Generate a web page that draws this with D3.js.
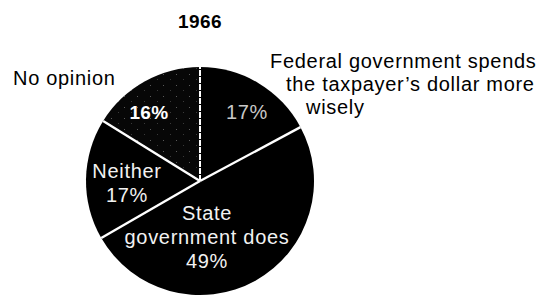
<!DOCTYPE html>
<html>
<head>
<meta charset="utf-8">
<script src="https://cdn.jsdelivr.net/npm/d3@7/dist/d3.min.js"></script>
<style>
  html, body { margin: 0; padding: 0; background: #fff; }
  svg { display: block; }
  text { font-family: "Liberation Sans", Arial, Helvetica, sans-serif; }
</style>
</head>
<body>
<svg id="chart" width="538" height="296"></svg>
<script>
// ---- data ----
const title = "1966";
const categories = [
  "Federal government spends the taxpayer\u2019s dollar more wisely",
  "State government does",
  "Neither",
  "No opinion"
];
const values = [17, 49, 17, 16];
const valueLabels = ["17%", "49%", "17%", "16%"];

// ---- layout / style (not data) ----
const W = 538, H = 296;
const cx = 200, cy = 181, R = 114;
const fills = ["#000000", "#000000", "#000000", "#0a0a0a"];

const svg = d3.select("#chart");

// sparse speckle pattern for "No opinion"
const defs = svg.append("defs");
const pat = defs.append("pattern")
  .attr("id", "speck").attr("patternUnits", "userSpaceOnUse")
  .attr("width", 13).attr("height", 11);
pat.append("rect").attr("width", 13).attr("height", 11).attr("fill", "#070707");
pat.append("rect").attr("x", 2).attr("y", 3).attr("width", 1).attr("height", 1).attr("fill", "#5a5a5a");
pat.append("rect").attr("x", 9).attr("y", 8).attr("width", 1).attr("height", 1).attr("fill", "#3a3a3a");

const pie = d3.pie().sort(null).value(d => d.v);
const data = categories.map((c, i) => ({ c, v: values[i], lbl: valueLabels[i], i }));
const arcs = pie(data);
const arc = d3.arc().innerRadius(0).outerRadius(R);

const g = svg.append("g").attr("transform", `translate(${cx},${cy})`);

g.selectAll("path.slice").data(arcs).join("path")
  .attr("class", "slice")
  .attr("d", arc)
  .attr("fill", d => d.data.i === 3 ? "url(#speck)" : fills[d.data.i]);

// separator lines from center to each slice boundary
arcs.forEach(a => {
  const ang = a.startAngle;
  const isDotted = a.data.i === 0; // boundary between No opinion and Federal
  g.append("line")
    .attr("x1", 0).attr("y1", 0)
    .attr("x2", R * Math.sin(ang)).attr("y2", -R * Math.cos(ang))
    .attr("stroke", "#fff")
    .attr("stroke-width", isDotted ? 2 : 2.4)
    .attr("stroke-dasharray", isDotted ? "6,1" : null);
});

// title
svg.append("text")
  .attr("x", 200).attr("y", 28)
  .attr("text-anchor", "middle")
  .attr("font-size", 19).attr("font-weight", "bold")
  .attr("letter-spacing", 0.4)
  .attr("fill", "#000")
  .text(title);

// inside labels
const inside = [
  { i: 0, lines: [valueLabels[0]], dx: 47, dy: -62, fill: "#c8c8c8", w: "normal" },
  { i: 3, lines: [valueLabels[3]], dx: -51, dy: -62, fill: "#ffffff", w: "bold" },
  { i: 2, lines: ["Neither", valueLabels[2]], dx: -73, dy: -3, fill: "#f2f2f2", w: "normal" },
  { i: 1, lines: ["State", "government does", valueLabels[1]], dx: 7, dy: 39, fill: "#f2f2f2", w: "normal" }
];
inside.forEach(L => {
  const t = g.append("text")
    .attr("text-anchor", "middle")
    .attr("font-size", L.w === "bold" ? 19 : 20)
    .attr("font-weight", L.w)
    .attr("letter-spacing", L.w === "bold" ? 0.4 : 0.7)
    .attr("fill", L.fill);
  L.lines.forEach((s, k) => {
    t.append("tspan").attr("x", L.dx).attr("y", L.dy + k * 24).text(s);
  });
});

// outside labels
const outside = [
  { lines: [["No opinion", 13, 85]] },
  { lines: [["Federal government spends", 270, 68],
            ["the taxpayer\u2019s dollar more", 286, 91],
            ["wisely", 306, 114]] }
];
outside.forEach(L => {
  const t = svg.append("text")
    .attr("font-size", 20)
    .attr("letter-spacing", 0.7)
    .attr("fill", "#000");
  L.lines.forEach(([s, x, y]) => {
    t.append("tspan").attr("x", x).attr("y", y).text(s);
  });
});
</script>
</body>
</html>
